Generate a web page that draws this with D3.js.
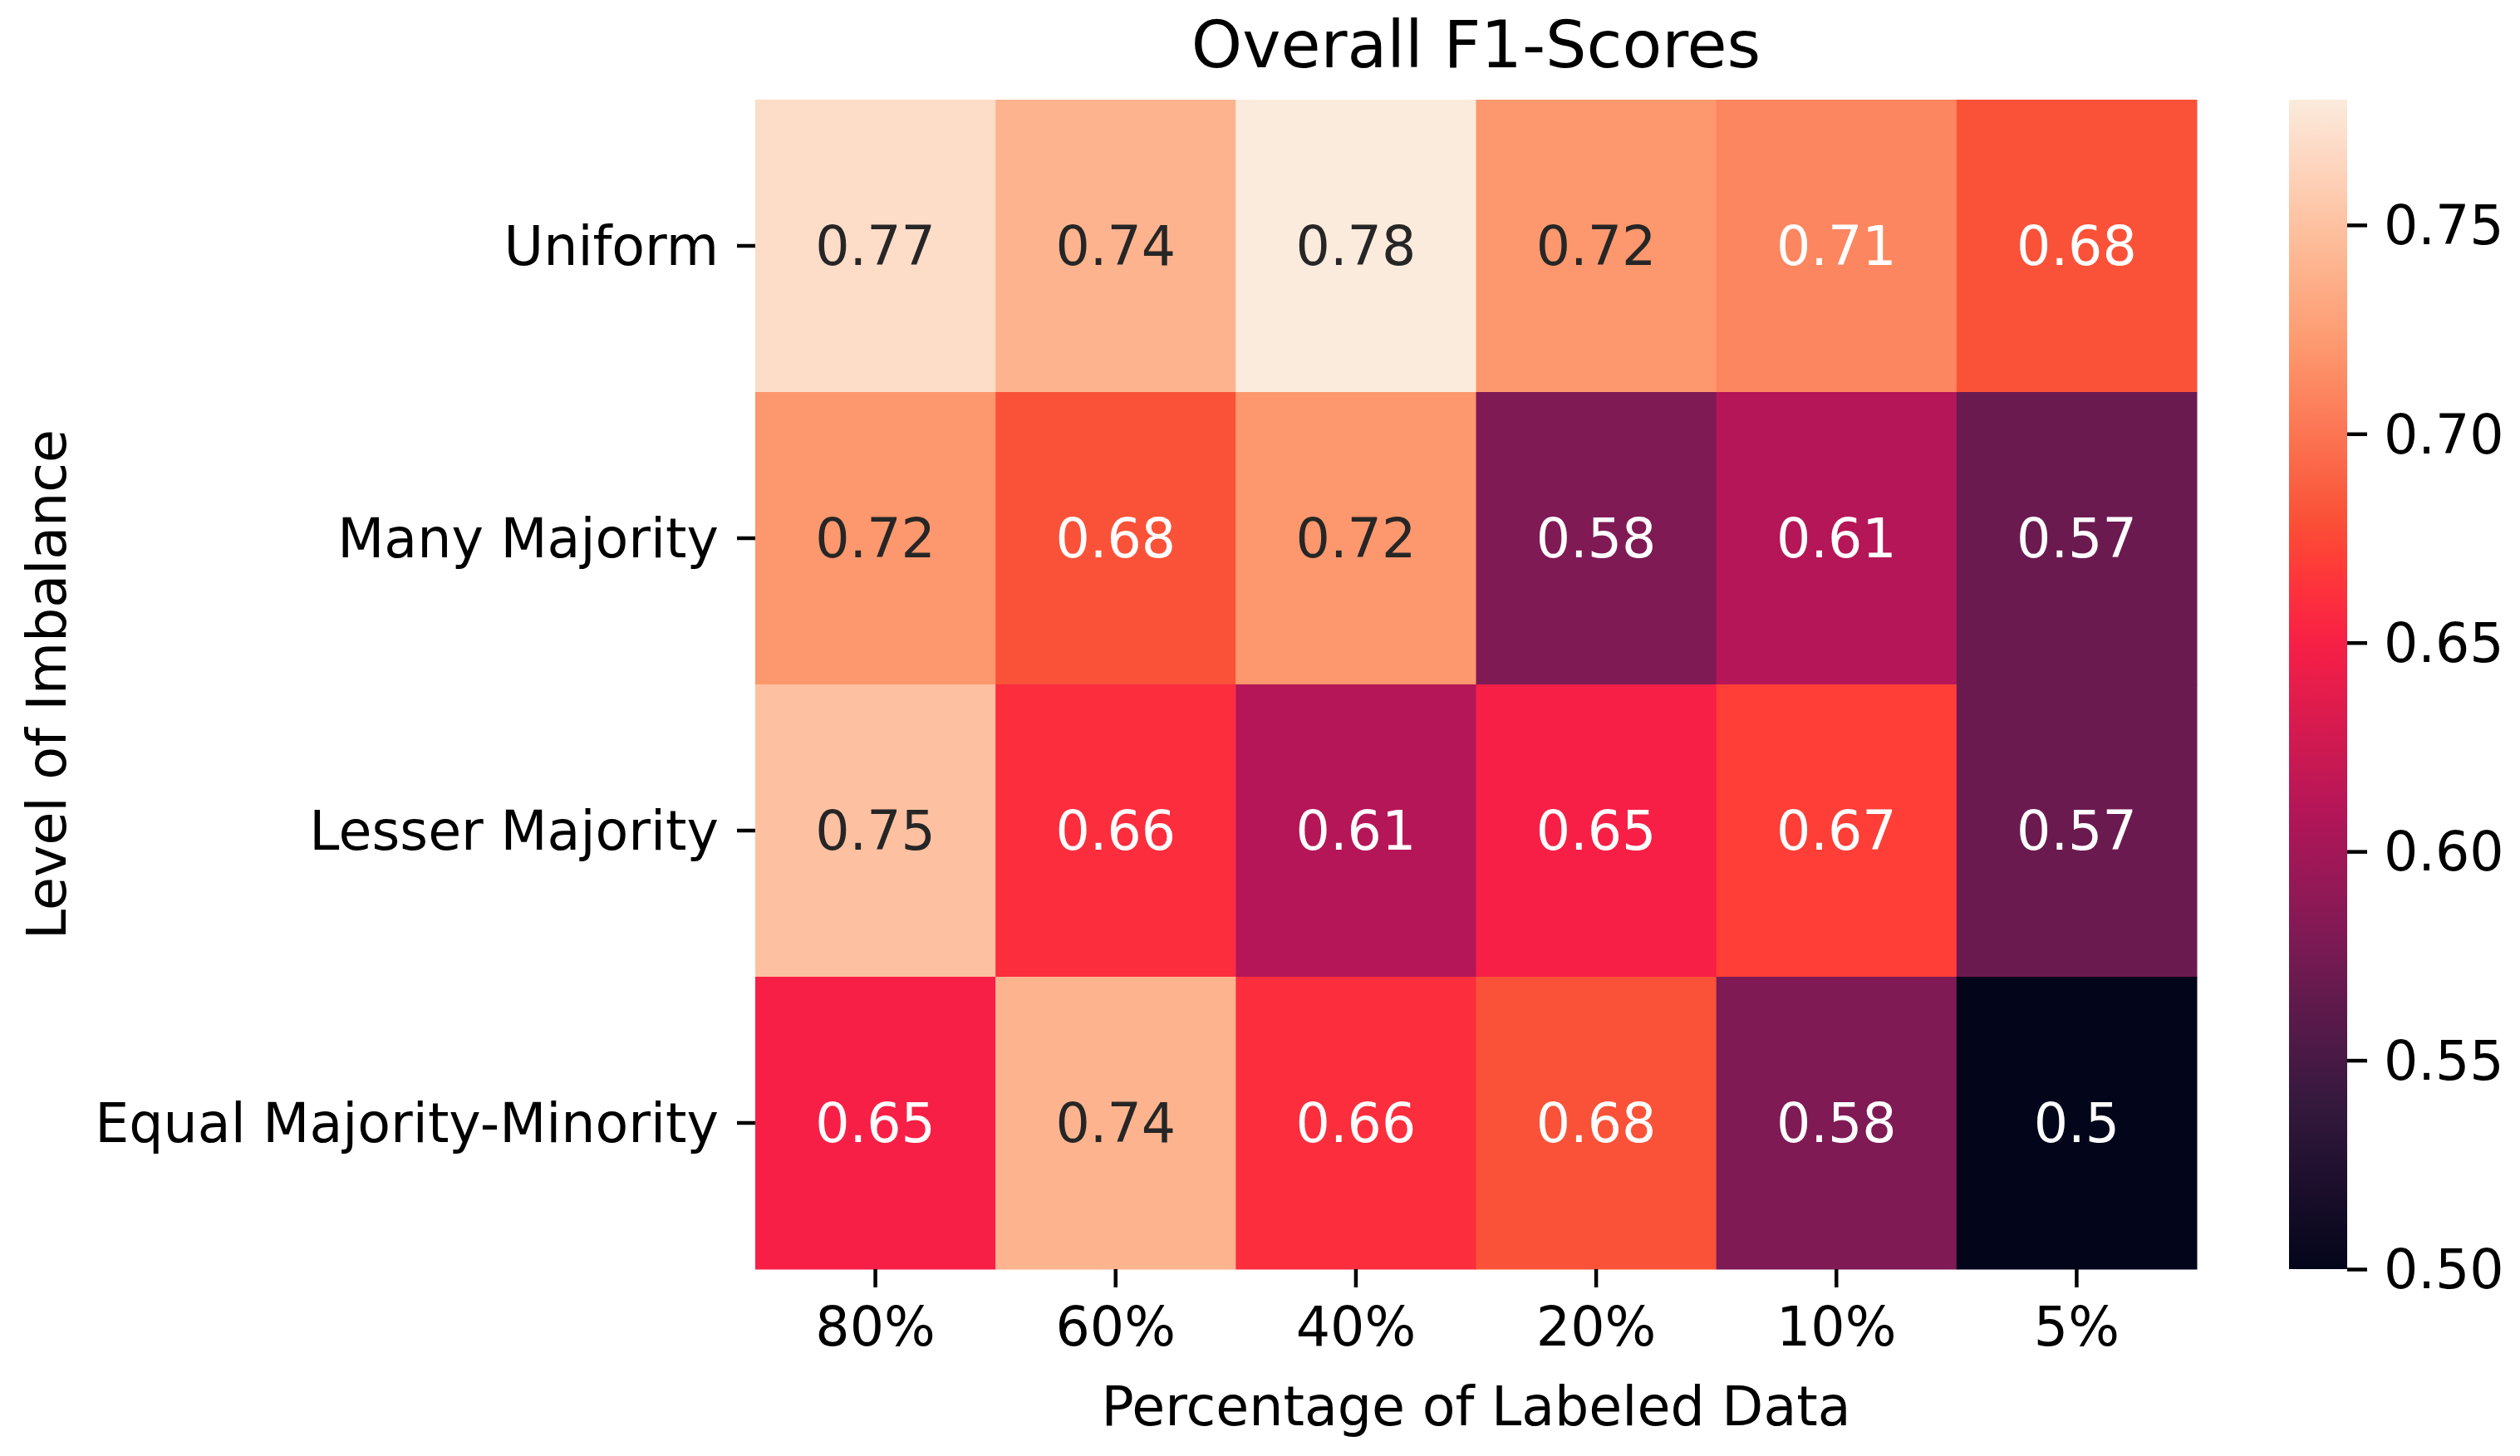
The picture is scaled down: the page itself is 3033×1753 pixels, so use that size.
<!DOCTYPE html>
<html>
<head>
<meta charset="utf-8">
<script src="https://cdn.jsdelivr.net/npm/d3@7"></script>
<style>
  body { margin: 0; background: #fff; }
  text { font-family: "DejaVu Sans", sans-serif; }
</style>
</head>
<body>
<div id="heatmap"></div>
<script>
// data
var rows = ["Uniform", "Many Majority", "Lesser Majority", "Equal Majority-Minority"];
var cols = ["80%", "60%", "40%", "20%", "10%", "5%"];
var uniform = [0.77, 0.74, 0.78, 0.72, 0.71, 0.68];
var manyMajority = [0.72, 0.68, 0.72, 0.58, 0.61, 0.57];
var lesserMajority = [0.75, 0.66, 0.61, 0.65, 0.67, 0.57];
var equalMajorityMinority = [0.65, 0.74, 0.66, 0.68, 0.58, 0.5];
var colorbarTicks = [0.5, 0.55, 0.6, 0.65, 0.7, 0.75];

var values = [uniform, manyMajority, lesserMajority, equalMajorityMinority];

// rocket-like colour ramp (positions 0..1 along the colour range)
var rampStops = [0, 0.143, 0.25, 0.286, 0.393, 0.536, 0.571, 0.607, 0.643, 0.786, 0.857, 0.964, 1];
var rampColors = ["#03051a", "#35193e", "#6b1a50", "#7f1a55", "#b51658", "#f81f46", "#fc2d3d",
                  "#fe3e37", "#fa5238", "#fd976d", "#fdb48e", "#fddcc8", "#faebdd"];

var W = 3033, H = 1753;
var margin = {top: 120, left: 909},
    width = 2644 - margin.left,
    height = 1528 - margin.top;
var fs = 65;

var svg = d3.select("#heatmap")
  .append("svg")
    .attr("width", W)
    .attr("height", H);

svg.append("rect").attr("width", W).attr("height", H).attr("fill", "#fff");

var g = svg.append("g")
    .attr("transform", "translate(" + margin.left + "," + margin.top + ")");

var cells = [];
values.forEach(function(r, i) {
  r.forEach(function(v, j) { cells.push({row: rows[i], col: cols[j], value: v}); });
});

var vmin = d3.min(cells, function(d) { return d.value; }),
    vmax = d3.max(cells, function(d) { return d.value; });

var color = d3.scaleLinear()
  .domain(rampStops.map(function(t) { return vmin + t * (vmax - vmin); }))
  .range(rampColors)
  .interpolate(d3.interpolateRgb)
  .clamp(true);

var x = d3.scaleBand().domain(cols).range([0, width]);
var y = d3.scaleBand().domain(rows).range([0, height]);

// cells
g.selectAll("rect.cell")
  .data(cells)
  .enter()
  .append("rect")
    .attr("class", "cell")
    .attr("x", function(d) { return x(d.col); })
    .attr("y", function(d) { return y(d.row); })
    .attr("width", x.bandwidth() + 0.5)
    .attr("height", y.bandwidth() + 0.5)
    .attr("fill", function(d) { return color(d.value); });

// text colour like seaborn: luminance of the cell
function lum(c) {
  var rgb = d3.rgb(c);
  var f = function(u) { u /= 255; return u <= 0.03928 ? u / 12.92 : Math.pow((u + 0.055) / 1.055, 2.4); };
  return 0.2126 * f(rgb.r) + 0.7152 * f(rgb.g) + 0.0722 * f(rgb.b);
}

var fmt = d3.format(".2~g");
g.selectAll("text.annot")
  .data(cells)
  .enter()
  .append("text")
    .attr("class", "annot")
    .attr("x", function(d) { return x(d.col) + x.bandwidth() / 2; })
    .attr("y", function(d) { return y(d.row) + y.bandwidth() / 2; })
    .attr("dy", "0.35em")
    .attr("text-anchor", "middle")
    .style("font-size", fs + "px")
    .attr("fill", function(d) { return lum(color(d.value)) > 0.408 ? "#262626" : "#ffffff"; })
    .text(function(d) { return fmt(d.value); });

// axes
var xAxis = g.append("g")
  .attr("transform", "translate(0," + height + ")")
  .call(d3.axisBottom(x).tickSize(22).tickPadding(21));
var yAxis = g.append("g")
  .call(d3.axisLeft(y).tickSize(22).tickPadding(22));

[xAxis, yAxis].forEach(function(a) {
  a.select(".domain").remove();
  a.selectAll("line").attr("stroke", "#000").attr("stroke-width", 4.5);
  a.selectAll("text").style("font-size", fs + "px").attr("fill", "#000");
});
yAxis.selectAll("text").attr("dy", "0.35em");
xAxis.selectAll("text").attr("dy", "0.76em");

// title and axis labels
svg.append("text")
  .attr("x", margin.left + width / 2)
  .attr("y", 81)
  .attr("text-anchor", "middle")
  .style("font-size", "78px")
  .text("Overall F1-Scores");

svg.append("text")
  .attr("x", margin.left + width / 2)
  .attr("y", 1716)
  .attr("text-anchor", "middle")
  .style("font-size", fs + "px")
  .text("Percentage of Labeled Data");

svg.append("text")
  .attr("transform", "translate(79," + (margin.top + height / 2) + ")rotate(-90)")
  .attr("text-anchor", "middle")
  .style("font-size", fs + "px")
  .text("Level of Imbalance");

// colorbar
var cbX = 2755, cbW = 70;
var cbScale = d3.scaleLinear().domain([vmin, vmax]).range([margin.top + height, margin.top]);

var grad = svg.append("defs").append("linearGradient")
  .attr("id", "cbgrad")
  .attr("x1", 0).attr("y1", 1).attr("x2", 0).attr("y2", 0);
d3.range(0, 1.0001, 0.02).forEach(function(t) {
  grad.append("stop")
    .attr("offset", t)
    .attr("stop-color", color(vmin + t * (vmax - vmin)));
});

svg.append("rect")
  .attr("x", cbX)
  .attr("y", cbScale(vmax))
  .attr("width", cbW)
  .attr("height", cbScale(vmin) - cbScale(vmax))
  .attr("fill", "url(#cbgrad)");

var cbAxis = svg.append("g")
  .attr("transform", "translate(" + (cbX + cbW) + ",0)")
  .call(d3.axisRight(cbScale).tickValues(colorbarTicks).tickFormat(d3.format(".2f")).tickSize(24).tickPadding(20));
cbAxis.select(".domain").remove();
cbAxis.selectAll("line").attr("stroke", "#000").attr("stroke-width", 4.5);
cbAxis.selectAll("text").style("font-size", fs + "px").attr("fill", "#000").attr("dy", "0.35em");
</script>
</body>
</html>
